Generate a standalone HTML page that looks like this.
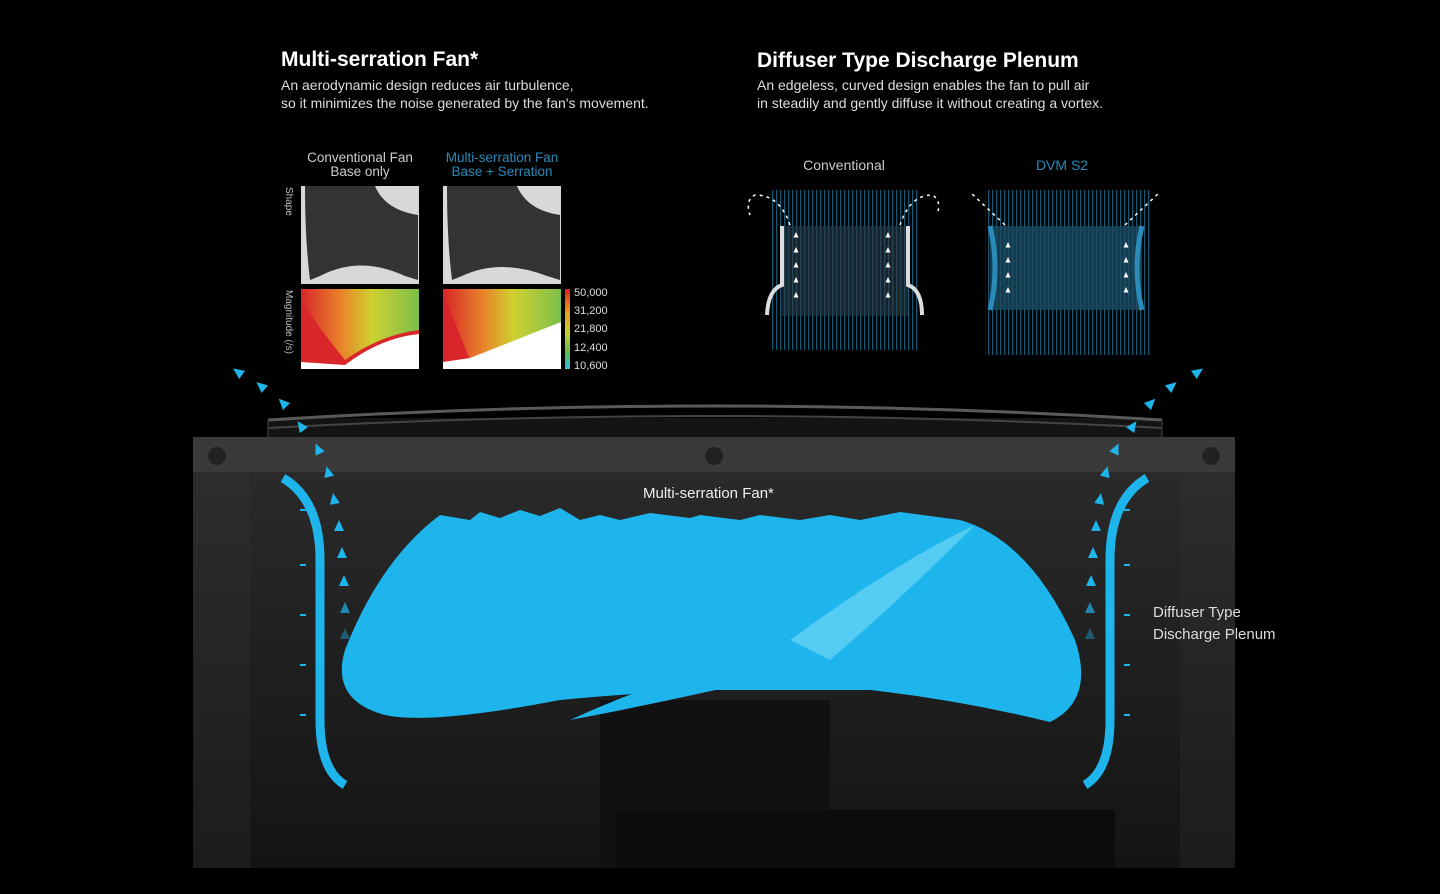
<!DOCTYPE html>
<html><head><meta charset="utf-8"><style>
body{margin:0;background:#000;width:1440px;height:894px;overflow:hidden;font-family:"Liberation Sans",sans-serif;}
svg{display:block}
</style></head><body>
<svg width="1440" height="894" viewBox="0 0 1440 894" xmlns="http://www.w3.org/2000/svg">
<defs>
<linearGradient id="body" x1="0" y1="0" x2="0" y2="1">
<stop offset="0" stop-color="#2e2e2e"/><stop offset="1" stop-color="#1c1c1c"/></linearGradient>
<linearGradient id="inner" x1="0" y1="0" x2="0" y2="1">
<stop offset="0" stop-color="#2a2a2a"/><stop offset="1" stop-color="#141414"/></linearGradient>
<linearGradient id="heat1" x1="0" y1="0" x2="1" y2="0">
<stop offset="0" stop-color="#d8262a"/><stop offset="0.35" stop-color="#e8862a"/><stop offset="0.6" stop-color="#cfd030"/><stop offset="1" stop-color="#7cbf4a"/></linearGradient>
<linearGradient id="scale" x1="0" y1="0" x2="0" y2="1">
<stop offset="0" stop-color="#e02020"/><stop offset="0.3" stop-color="#e8a020"/><stop offset="0.55" stop-color="#c8d030"/><stop offset="0.8" stop-color="#60b850"/><stop offset="1" stop-color="#30c0e0"/></linearGradient>
<pattern id="lines" width="4" height="10" patternUnits="userSpaceOnUse"><rect width="1.3" height="10" fill="#1f6a8c"/></pattern>
<polygon id="tri" points="0,-6 5,5 -5,5"/>
<polygon id="wtri" points="0,-3 2.5,2.5 -2.5,2.5"/>
</defs>
<rect width="1440" height="894" fill="#000"/>
<text x="281" y="66" fill="#fff" font-size="21" font-weight="bold">Multi-serration Fan*</text>
<text x="281" y="90" fill="#ddd" font-size="14">An aerodynamic design reduces air turbulence,</text>
<text x="281" y="108" fill="#ddd" font-size="14">so it minimizes the noise generated by the fan's movement.</text>
<text x="757" y="67" fill="#fff" font-size="21" font-weight="bold">Diffuser Type Discharge Plenum</text>
<text x="757" y="90" fill="#ddd" font-size="14">An edgeless, curved design enables the fan to pull air</text>
<text x="757" y="108" fill="#ddd" font-size="14">in steadily and gently diffuse it without creating a vortex.</text>
<text x="360" y="162" fill="#ccc" font-size="13.5" text-anchor="middle">Conventional Fan</text>
<text x="360" y="176" fill="#ccc" font-size="13.5" text-anchor="middle">Base only</text>
<text x="502" y="162" fill="#2a8ab8" font-size="13.5" text-anchor="middle">Multi-serration Fan</text>
<text x="502" y="176" fill="#2a8ab8" font-size="13.5" text-anchor="middle">Base + Serration</text>
<text transform="translate(286,187) rotate(90)" fill="#bbb" font-size="10">Shape</text>
<text transform="translate(286,290) rotate(90)" fill="#bbb" font-size="10">Magnitude (/s)</text>
<rect x="301" y="186" width="118" height="98" fill="#d8d8d8"/>
<path d="M305,186 L375,186 Q385,210 418,215 L418,280 L405,276 Q360,255 320,276 L310,280 Q305,240 305,186 Z" fill="#333"/>
<rect x="443" y="186" width="118" height="98" fill="#d8d8d8"/>
<path d="M447,186 L517,186 Q527,210 560,215 L560,280 L547,276 Q500,258 462,276 L452,280 Q447,240 447,186 Z" fill="#333"/>
<rect x="301" y="289" width="118" height="80" fill="url(#heat1)"/>
<path d="M301,300 Q320,330 345,360 Q380,335 419,330 L419,369 L301,369 Z" fill="#d8262a"/>
<path d="M301,362 L345,365 Q380,338 419,334 L419,369 L301,369Z" fill="#fff"/>
<rect x="443" y="289" width="118" height="80" fill="url(#heat1)"/>
<path d="M443,292 L470,360 L443,362Z" fill="#d8262a"/>
<path d="M443,362 L470,358 L561,322 L561,369 L443,369Z" fill="#fff"/>
<rect x="565" y="289" width="5" height="80" fill="url(#scale)"/>
<g fill="#ddd" font-size="11"><text x="574" y="296">50,000</text><text x="574" y="314">31,200</text><text x="574" y="332">21,800</text><text x="574" y="351">12,400</text><text x="574" y="369">10,600</text></g>
<text x="844" y="170" fill="#ccc" font-size="14" text-anchor="middle">Conventional</text>
<text x="1062" y="170" fill="#2a8ab8" font-size="14" text-anchor="middle">DVM S2</text>
<rect x="770" y="190" width="150" height="160" fill="url(#lines)" opacity="0.8"/>
<rect x="782" y="226" width="126" height="90" fill="#2b3a44" opacity="0.6"/>
<path d="M782,226 L782,285 Q768,290 767,315 M908,226 L908,285 Q922,290 922,315" stroke="#ddd" stroke-width="4" fill="none"/>
<path d="M790,225 Q780,195 755,195 Q745,200 750,215 M900,225 Q910,195 932,195 Q942,200 937,215" stroke="#fff" stroke-width="1.5" stroke-dasharray="3,4" fill="none"/>
<rect x="985" y="190" width="165" height="165" fill="url(#lines)" opacity="0.8"/>
<rect x="990" y="226" width="152" height="84" fill="#1c4a60" opacity="0.8"/>
<path d="M990,226 Q1000,268 990,310 M1142,226 Q1132,268 1142,310" stroke="#2a8ab8" stroke-width="5" fill="none"/>
<path d="M1005,225 L970,192 M1125,225 L1160,192" stroke="#fff" stroke-width="1.5" stroke-dasharray="3,4" fill="none"/>
<g fill="#fff">
<use href="#wtri" x="796" y="235"/><use href="#wtri" x="796" y="250"/><use href="#wtri" x="796" y="265"/><use href="#wtri" x="796" y="280"/><use href="#wtri" x="796" y="295"/>
<use href="#wtri" x="888" y="235"/><use href="#wtri" x="888" y="250"/><use href="#wtri" x="888" y="265"/><use href="#wtri" x="888" y="280"/><use href="#wtri" x="888" y="295"/>
<use href="#wtri" x="1008" y="245"/><use href="#wtri" x="1008" y="260"/><use href="#wtri" x="1008" y="275"/><use href="#wtri" x="1008" y="290"/>
<use href="#wtri" x="1126" y="245"/><use href="#wtri" x="1126" y="260"/><use href="#wtri" x="1126" y="275"/><use href="#wtri" x="1126" y="290"/>
</g>
<!-- unit -->
<rect x="268" y="418" width="894" height="19" fill="#141414"/>
<path d="M268,420 Q715,392 1162,420" fill="none" stroke="#5a5a5a" stroke-width="3"/>
<path d="M268,428 Q715,404 1162,428" fill="none" stroke="#444" stroke-width="2"/>
<g stroke="#333" stroke-width="1.5"><line x1="268" y1="420" x2="268" y2="437"/><line x1="1162" y1="420" x2="1162" y2="437"/></g>
<rect x="193" y="437" width="1042" height="431" fill="url(#body)"/>
<rect x="193" y="437" width="1042" height="35" fill="#3a3a3a"/>
<rect x="250" y="472" width="930" height="396" fill="url(#inner)"/>
<circle cx="217" cy="456" r="9" fill="#222"/><circle cx="714" cy="456" r="9" fill="#222"/><circle cx="1211" cy="456" r="9" fill="#222"/>
<rect x="600" y="700" width="230" height="168" fill="#111"/>
<rect x="615" y="810" width="500" height="58" fill="#0c0c0c"/>
<!-- fan -->
<path d="M440,515 L470,520 L480,512 L500,518 L520,510 L540,516 L560,508 L580,520 L600,515 L620,520 L650,513 L690,518 L700,515 L740,520 L760,515 L800,520 L830,515 L860,520 L900,512 L960,520 Q1030,540 1075,640 Q1095,700 1050,722 Q960,700 870,690 L700,690 Q610,695 560,700 Q430,725 385,715 Q330,700 345,650 Q380,560 440,515 Z" fill="#1eb4ec"/>
<path d="M570,720 Q700,660 840,640 L760,680 Q650,705 570,720Z" fill="#1eb4ec"/>
<path d="M790,640 Q900,560 975,525 Q900,600 830,660Z" fill="#55ccf4"/>
<path d="M283,478 Q320,500 320,560 L320,720 Q320,770 345,785" stroke="#1eb4ec" stroke-width="9" fill="none"/>
<path d="M1147,478 Q1110,500 1110,560 L1110,720 Q1110,770 1085,785" stroke="#1eb4ec" stroke-width="9" fill="none"/>
<g stroke="#1eb4ec" stroke-width="2"><line x1="300" y1="510" x2="306" y2="510"/><line x1="300" y1="565" x2="306" y2="565"/><line x1="300" y1="615" x2="306" y2="615"/><line x1="300" y1="665" x2="306" y2="665"/><line x1="300" y1="715" x2="306" y2="715"/>
<line x1="1124" y1="510" x2="1130" y2="510"/><line x1="1124" y1="565" x2="1130" y2="565"/><line x1="1124" y1="615" x2="1130" y2="615"/><line x1="1124" y1="665" x2="1130" y2="665"/><line x1="1124" y1="715" x2="1130" y2="715"/></g>
<g fill="#1eb4ec">
<use href="#tri" transform="translate(238,372) rotate(-55)"/><use href="#tri" transform="translate(261,386) rotate(-50)"/><use href="#tri" transform="translate(283,403) rotate(-45)"/><use href="#tri" transform="translate(301,426) rotate(-35)"/><use href="#tri" transform="translate(318,449) rotate(-25)"/><use href="#tri" transform="translate(328,472) rotate(-15)"/><use href="#tri" transform="translate(334,499) rotate(-10)"/><use href="#tri" x="339" y="526"/><use href="#tri" x="342" y="553"/><use href="#tri" x="344" y="581"/><use href="#tri" x="345" y="608" opacity="0.7"/><use href="#tri" x="345" y="634" opacity="0.4"/>
<use href="#tri" transform="translate(1198,372) rotate(55)"/><use href="#tri" transform="translate(1172,386) rotate(50)"/><use href="#tri" transform="translate(1151,403) rotate(45)"/><use href="#tri" transform="translate(1133,426) rotate(35)"/><use href="#tri" transform="translate(1116,449) rotate(25)"/><use href="#tri" transform="translate(1106,472) rotate(15)"/><use href="#tri" transform="translate(1100,499) rotate(10)"/><use href="#tri" x="1096" y="526"/><use href="#tri" x="1093" y="553"/><use href="#tri" x="1091" y="581"/><use href="#tri" x="1090" y="608" opacity="0.7"/><use href="#tri" x="1090" y="634" opacity="0.4"/>
</g>
<text x="643" y="498" fill="#eee" font-size="15">Multi-serration Fan*</text>
<text x="1153" y="617" fill="#ddd" font-size="15">Diffuser Type</text>
<text x="1153" y="639" fill="#ddd" font-size="15">Discharge Plenum</text>
</svg>
</body></html>
